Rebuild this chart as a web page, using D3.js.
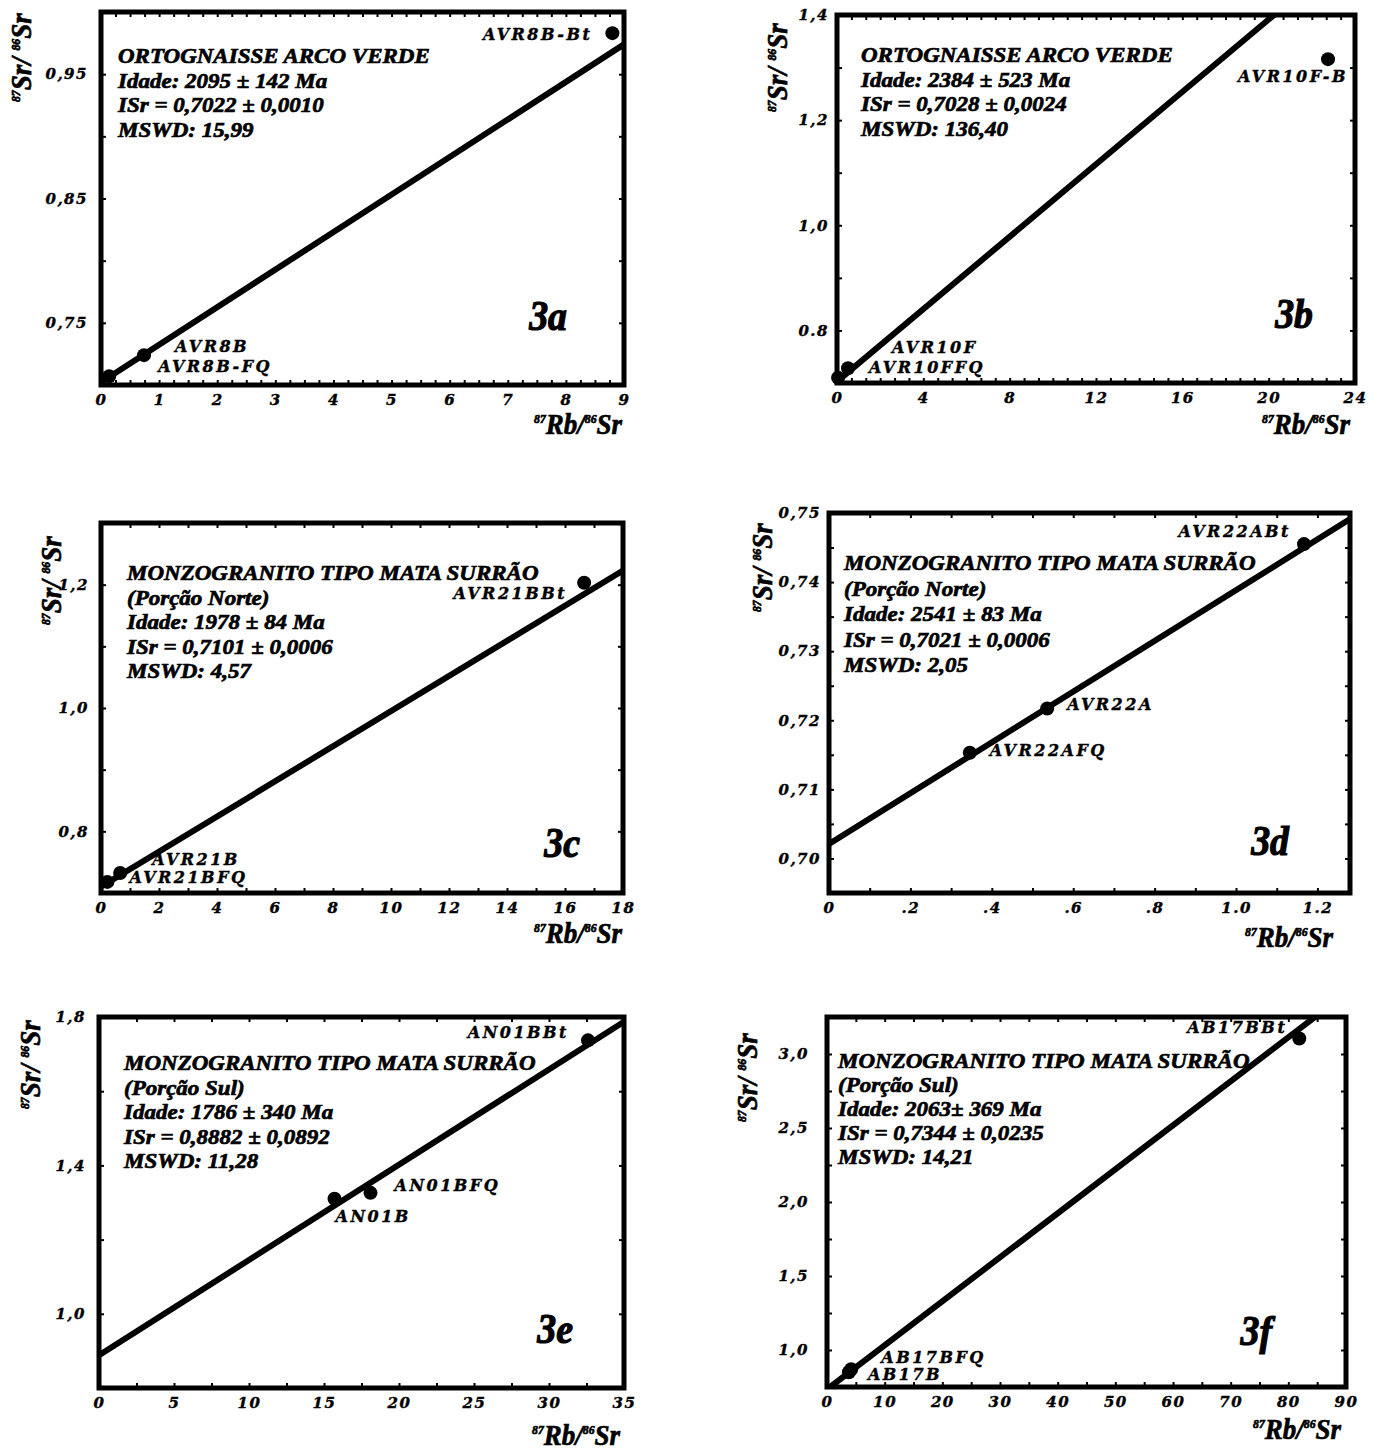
<!DOCTYPE html>
<html>
<head>
<meta charset="utf-8">
<script src="https://cdnjs.cloudflare.com/ajax/libs/d3/7.8.5/d3.min.js"></script>
<style>
    body { margin: 0; background: #fff; }
    svg text { font-style: italic; font-weight: bold; fill: #000; }
    .serif { font-family: "Liberation Serif", "Times New Roman", serif; stroke: #000; stroke-width: 0.7px; }
    .wide { font-family: "DejaVu Serif", serif; stroke: #000; stroke-width: 0.4px; }
    .tick line { stroke: #000; stroke-width: 2; }
</style>
</head>
<body>
<svg id="chart" width="1383" height="1450"></svg>
<script>

// decay constant of 87Rb (per year), used to draw each isochron from its age
var LAMBDA = 1.42e-11;

var panelIds = ["3a", "3b", "3c", "3d", "3e", "3f"];

var panelTexts = [
    ["ORTOGNAISSE ARCO VERDE", "Idade: 2095 ± 142 Ma", "ISr = 0,7022 ± 0,0010", "MSWD: 15,99"],
    ["ORTOGNAISSE ARCO VERDE", "Idade: 2384 ± 523 Ma", "ISr = 0,7028 ± 0,0024", "MSWD: 136,40"],
    ["MONZOGRANITO TIPO MATA SURRÃO", "(Porção Norte)", "Idade: 1978 ± 84 Ma", "ISr = 0,7101 ± 0,0006", "MSWD: 4,57"],
    ["MONZOGRANITO TIPO MATA SURRÃO", "(Porção Norte)", "Idade: 2541 ± 83 Ma", "ISr = 0,7021 ± 0,0006", "MSWD: 2,05"],
    ["MONZOGRANITO TIPO MATA SURRÃO", "(Porção Sul)", "Idade: 1786 ± 340 Ma", "ISr = 0,8882 ± 0,0892", "MSWD: 11,28"],
    ["MONZOGRANITO TIPO MATA SURRÃO", "(Porção Sul)", "Idade: 2063± 369 Ma", "ISr = 0,7344 ± 0,0235", "MSWD: 14,21"]
];

// isochron parameters (Ma, initial ratio)
var ages = [2095, 2384, 1978, 2541, 1786, 2063];
var initialSr = [0.7022, 0.7028, 0.7101, 0.7021, 0.8882, 0.7344];

// samples
var sampleNames = [
    ["AVR8B-FQ", "AVR8B", "AVR8B-Bt"],
    ["AVR10FFQ", "AVR10F", "AVR10F-B"],
    ["AVR21BFQ", "AVR21B", "AVR21BBt"],
    ["AVR22AFQ", "AVR22A", "AVR22ABt"],
    ["AN01B", "AN01BFQ", "AN01BBt"],
    ["AB17B", "AB17BFQ", "AB17BBt"]
];
var rbSr = [
    [0.14, 0.74, 8.80],
    [0.05, 0.51, 22.75],
    [0.22, 0.66, 16.66],
    [0.346, 0.536, 1.167],
    [15.7, 18.1, 32.6],
    [3.8, 4.2, 81.9]
];
var srSr = [
    [0.707, 0.724, 0.983],
    [0.710, 0.728, 1.316],
    [0.718, 0.7325, 1.203],
    [0.7153, 0.7217, 0.7455],
    [1.310, 1.326, 1.737],
    [0.850, 0.870, 3.105]
];

// axes
var xDomains = [[0, 9], [0, 24], [0, 18], [0, 1.28], [0, 35], [0, 90]];
var yDomains = [[0.70, 1.00], [0.70, 1.40], [0.70, 1.30], [0.695, 0.75], [0.80, 1.80], [0.75, 3.25]];
var xTickValues = [
    [0, 1, 2, 3, 4, 5, 6, 7, 8, 9],
    [0, 4, 8, 12, 16, 20, 24],
    [0, 2, 4, 6, 8, 10, 12, 14, 16, 18],
    [0, 0.2, 0.4, 0.6, 0.8, 1.0, 1.2],
    [0, 5, 10, 15, 20, 25, 30, 35],
    [0, 10, 20, 30, 40, 50, 60, 70, 80, 90]
];
var xTickLabels = [
    ["0", "1", "2", "3", "4", "5", "6", "7", "8", "9"],
    ["0", "4", "8", "12", "16", "20", "24"],
    ["0", "2", "4", "6", "8", "10", "12", "14", "16", "18"],
    ["0", ".2", ".4", ".6", ".8", "1.0", "1.2"],
    ["0", "5", "10", "15", "20", "25", "30", "35"],
    ["0", "10", "20", "30", "40", "50", "60", "70", "80", "90"]
];
var yTickValues = [
    [0.75, 0.85, 0.95],
    [0.8, 1.0, 1.2, 1.4],
    [0.8, 1.0, 1.2],
    [0.70, 0.71, 0.72, 0.73, 0.74, 0.75],
    [1.0, 1.4, 1.8],
    [1.0, 1.5, 2.0, 2.5, 3.0]
];
var yTickLabels = [
    ["0,75", "0,85", "0,95"],
    ["0.8", "1,0", "1,2", "1,4"],
    ["0,8", "1,0", "1,2"],
    ["0,70", "0,71", "0,72", "0,73", "0,74", "0,75"],
    ["1,0", "1,4", "1,8"],
    ["1,0", "1,5", "2,0", "2,5", "3,0"]
];
var xMinorSteps = [0.25, 2 / 3, 1, 0.1, 2.5, 5];
var yMinorSteps = [0.05, 0.1, 0.1, 0.005, 0.2, 0.25];


/*
 *  layout (pixels) - kept apart from the values above
 */
var boxes = [
    [101, 12, 624, 385],
    [837, 15, 1355, 383],
    [101, 523, 623, 893],
    [829, 513, 1350, 893],
    [99, 1017, 624, 1388],
    [827, 1017, 1346, 1387]
];
var titlePos = [[17, 51, 24.7], [24, 47, 24.5], [26, 57, 24.6], [15, 57, 25.6], [25, 53, 24.5], [11, 51, 24]];
var tagPos = [[57, 55], [42, 55], [43, 36], [61, 38], [51, 45], [74, 42]];
var xLabelPos = [[2, 49], [5, 51], [1, 50], [17, 54], [4, 57], [5, 52]];
var yLabelPos = [[70, 90], [50, 97], [40, 102], [57, 99], [59, 92], [70, 105]];
var yTickPad = [13, 8, 12, 8, 13, 18];
// [dx, dy, anchor] for every sample label, relative to its point
var labelOffsets = [
    [[49, -4, "start"], [31, -3, "start"], [-20, 7, "end"]],
    [[31, -5, "start"], [44, -15, "start"], [20, 23, "end"]],
    [[22, 1, "start"], [32, -8, "start"], [-17, 16, "end"]],
    [[20, 3, "start"], [20, 1, "start"], [-13, -7, "end"]],
    [[1, 23, "start"], [24, -2, "start"], [-19, -2, "end"]],
    [[19, 8, "start"], [30, -6, "start"], [-12, -5, "end"]]
];


IsochronPlot = function(_svg, _index) {
    this.svg = _svg;
    this.i = _index;
    this.initVis();
}

IsochronPlot.prototype.initVis = function() {
    var vis = this;
    var b = boxes[vis.i];
    vis.left = b[0];
    vis.top = b[1];
    vis.right = b[2];
    vis.bottom = b[3];

    vis.x = d3.scaleLinear().domain(xDomains[vis.i]).range([vis.left, vis.right]);
    vis.y = d3.scaleLinear().domain(yDomains[vis.i]).range([vis.bottom, vis.top]);

    vis.g = vis.svg.append("g").attr("class", "panel panel-" + panelIds[vis.i]);

    vis.g.append("clipPath")
        .attr("id", "clip-" + vis.i)
        .append("rect")
        .attr("x", vis.left)
        .attr("y", vis.top)
        .attr("width", vis.right - vis.left)
        .attr("height", vis.bottom - vis.top);

    vis.updateVis();
}

IsochronPlot.prototype.updateVis = function() {
    var vis = this;
    var i = vis.i;
    var g = vis.g;

    // minor ticks, pointing inward on all four sides
    var minorX = d3.range(xDomains[i][0], xDomains[i][1] + 1e-9, xMinorSteps[i]);
    var minorY = d3.range(yDomains[i][0], yDomains[i][1] + 1e-9, yMinorSteps[i]);

    var sides = [
        [d3.axisBottom(vis.x).tickValues(minorX), "translate(0," + vis.bottom + ")"],
        [d3.axisTop(vis.x).tickValues(minorX), "translate(0," + vis.top + ")"],
        [d3.axisLeft(vis.y).tickValues(minorY), "translate(" + vis.left + ",0)"],
        [d3.axisRight(vis.y).tickValues(minorY), "translate(" + vis.right + ",0)"]
    ];
    sides.forEach(function(s) {
        var ax = g.append("g")
            .attr("transform", s[1])
            .call(s[0].tickSize(-5).tickFormat(""));
        ax.select(".domain").remove();
    });

    // tick labels
    var xLab = g.append("g")
        .attr("transform", "translate(0," + vis.bottom + ")")
        .call(d3.axisBottom(vis.x)
            .tickValues(xTickValues[i])
            .tickFormat(function(d, j) { return xTickLabels[i][j]; })
            .tickSize(0).tickPadding(9));
    xLab.select(".domain").remove();
    xLab.selectAll("text")
        .attr("class", "wide")
        .attr("font-size", 15)
        .style("letter-spacing", "1.5px");

    var yLab = g.append("g")
        .attr("transform", "translate(" + vis.left + ",0)")
        .call(d3.axisLeft(vis.y)
            .tickValues(yTickValues[i])
            .tickFormat(function(d, j) { return yTickLabels[i][j]; })
            .tickSize(0).tickPadding(yTickPad[i]));
    yLab.select(".domain").remove();
    yLab.selectAll("text")
        .attr("class", "wide")
        .attr("font-size", 15)
        .style("letter-spacing", "1.5px");

    // isochron
    var slope = Math.exp(LAMBDA * ages[i] * 1e6) - 1;
    var lineData = xDomains[i].map(function(d) { return [d, initialSr[i] + slope * d]; });
    g.append("path")
        .datum(lineData)
        .attr("clip-path", "url(#clip-" + i + ")")
        .attr("fill", "none")
        .attr("stroke", "#000")
        .attr("stroke-width", 6)
        .attr("d", d3.line()
            .x(function(d) { return vis.x(d[0]); })
            .y(function(d) { return vis.y(d[1]); }));

    // frame
    g.append("rect")
        .attr("x", vis.left)
        .attr("y", vis.top)
        .attr("width", vis.right - vis.left)
        .attr("height", vis.bottom - vis.top)
        .attr("fill", "none")
        .attr("stroke", "#000")
        .attr("stroke-width", 5);

    // samples
    var pts = sampleNames[i].map(function(n, j) {
        return { name: n, x: rbSr[i][j], y: srSr[i][j], off: labelOffsets[i][j] };
    });

    g.selectAll("circle.pt")
        .data(pts)
        .enter()
        .append("circle")
        .attr("class", "pt")
        .attr("cx", function(d) { return vis.x(d.x); })
        .attr("cy", function(d) { return vis.y(d.y); })
        .attr("r", 7)
        .attr("fill", "#000");

    g.selectAll("text.pt-label")
        .data(pts)
        .enter()
        .append("text")
        .attr("class", "pt-label wide")
        .attr("x", function(d) { return vis.x(d.x) + d.off[0]; })
        .attr("y", function(d) { return vis.y(d.y) + d.off[1]; })
        .attr("text-anchor", function(d) { return d.off[2]; })
        .attr("font-size", 16)
        .style("letter-spacing", "2.5px")
        .text(function(d) { return d.name; });

    // title block
    var tp = titlePos[i];
    g.selectAll("text.title")
        .data(panelTexts[i])
        .enter()
        .append("text")
        .attr("class", "title serif")
        .attr("font-size", 21.5)
        .attr("transform", function(d, j) {
            return "translate(" + (vis.left + tp[0]) + "," + (vis.top + tp[1] + j * tp[2]) + ") scale(1.07,1)";
        })
        .text(function(d) { return d; });

    // panel tag (3a, 3b ...)
    g.append("text")
        .attr("class", "serif")
        .attr("font-size", 42)
        .style("stroke-width", "1.2px")
        .attr("text-anchor", "end")
        .attr("transform", "translate(" + (vis.right - tagPos[i][0]) + "," + (vis.bottom - tagPos[i][1]) + ") scale(0.9,1)")
        .text(panelIds[i]);

    // axis titles
    var xl = g.append("text")
        .attr("class", "serif")
        .attr("text-anchor", "end")
        .attr("transform", "translate(" + (vis.right - xLabelPos[i][0]) + "," + (vis.bottom + xLabelPos[i][1]) + ") scale(0.9,1)");
    vis.ratioLabel(xl, "87", "Rb/", "86", "Sr");

    var yl = g.append("text")
        .attr("class", "serif")
        .attr("text-anchor", "start")
        .attr("transform", "translate(" + (vis.left - yLabelPos[i][0]) + "," + (vis.top + yLabelPos[i][1]) + ") rotate(-90) scale(0.9,1)");
    vis.ratioLabel(yl, "87", "Sr/ ", "86", "Sr");
}

IsochronPlot.prototype.ratioLabel = function(sel, a, b, c, d) {
    sel.append("tspan").attr("font-size", 13).attr("dy", -11).text(a);
    sel.append("tspan").attr("font-size", 30).attr("dy", 11).text(b);
    sel.append("tspan").attr("font-size", 13).attr("dy", -11).text(c);
    sel.append("tspan").attr("font-size", 30).attr("dy", 11).text(d);
}


var svg = d3.select("#chart");
svg.append("rect").attr("width", 1383).attr("height", 1450).attr("fill", "#fff");

panelIds.forEach(function(id, i) {
    new IsochronPlot(svg, i);
});

</script>
</body>
</html>
